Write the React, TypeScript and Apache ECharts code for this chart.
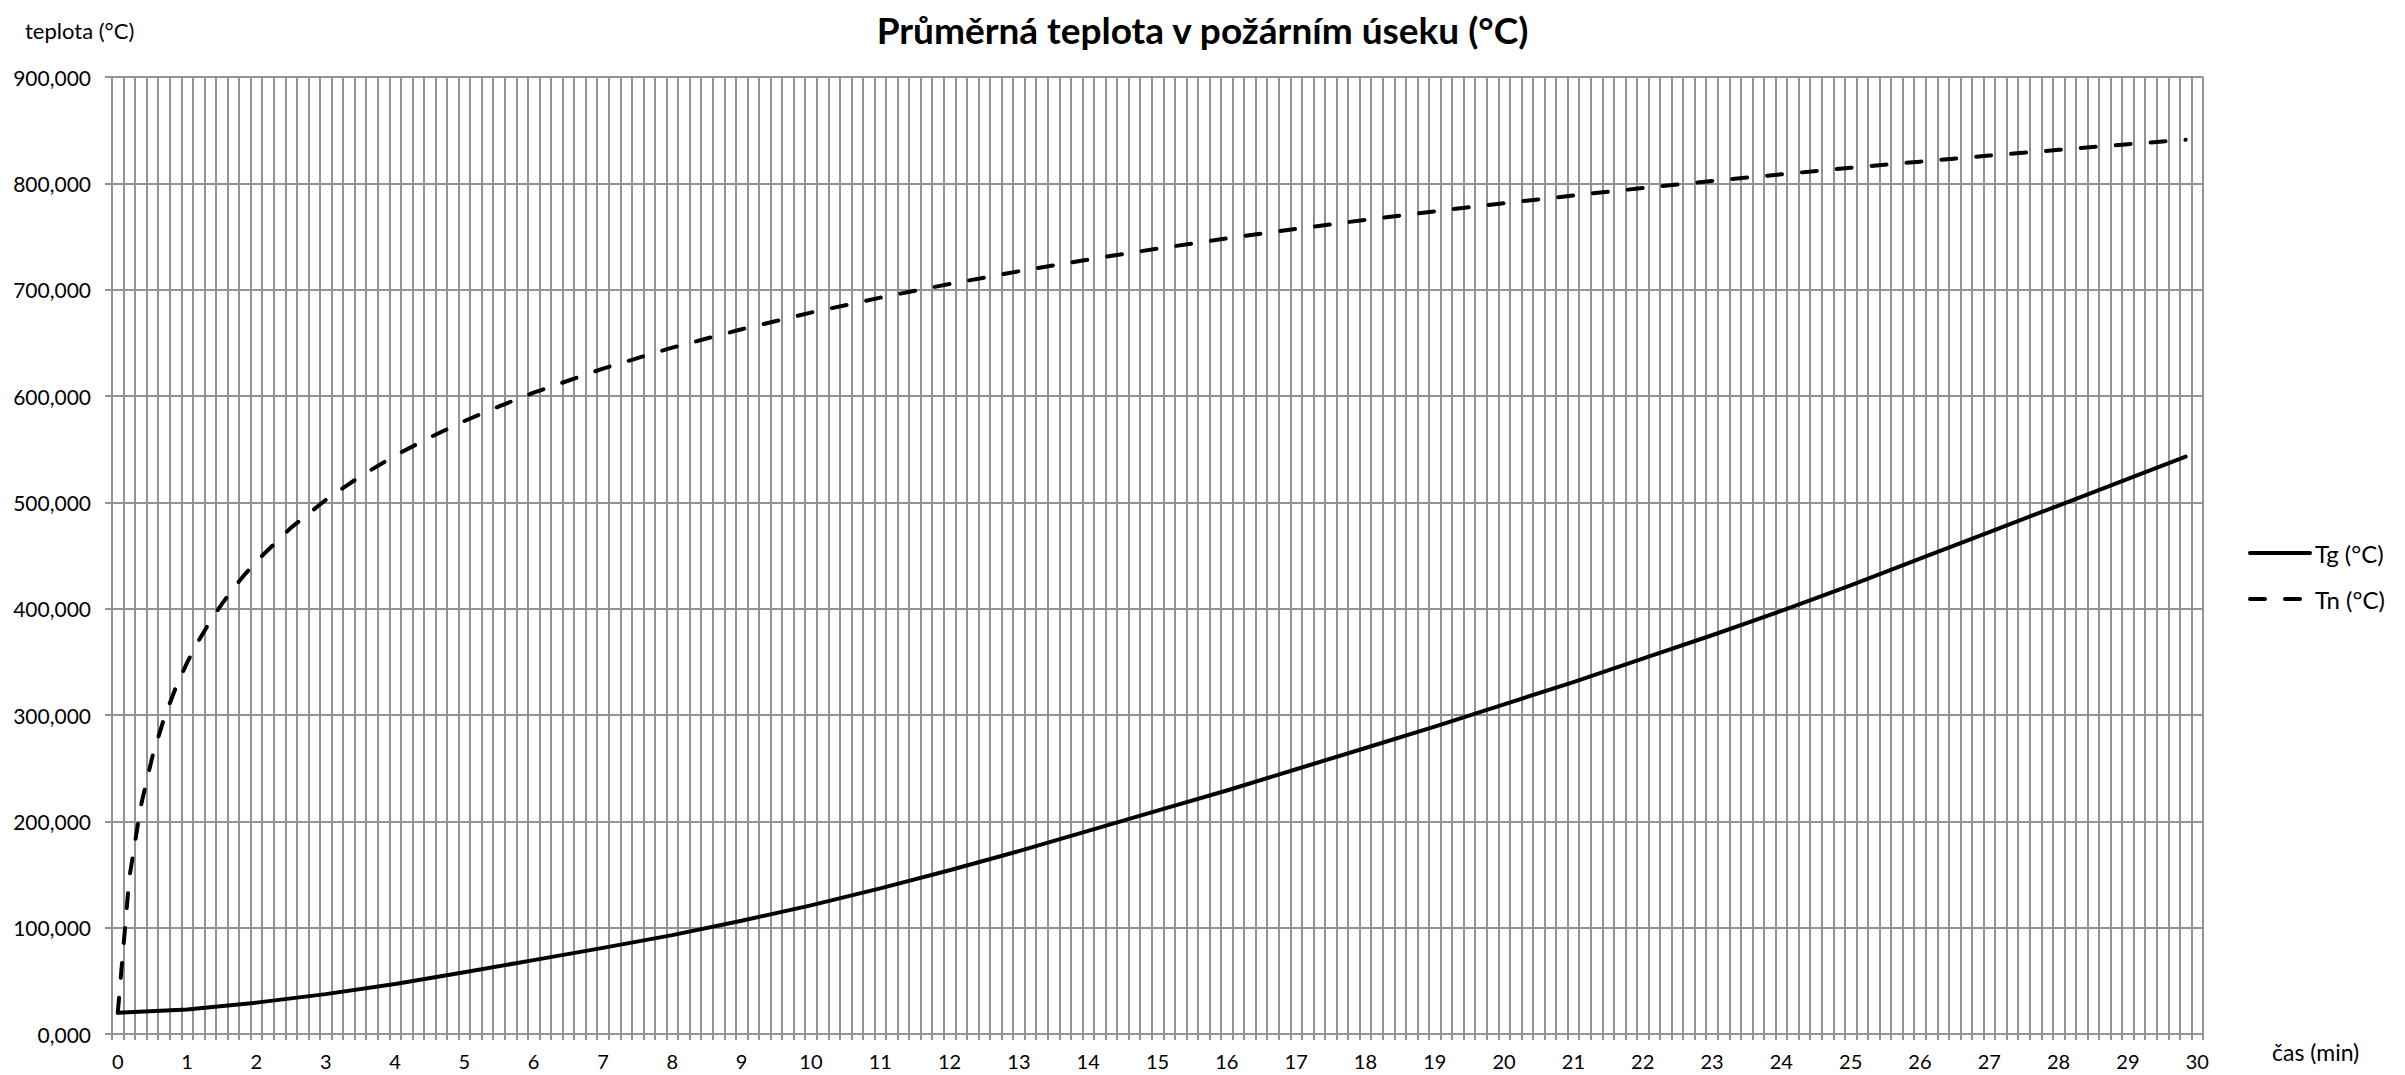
import React, { useEffect, useRef } from 'react';
import * as echarts from 'echarts';

const titleText = 'Průměrná teplota v požárním úseku (°C)';
const yAxisTitle = 'teplota (°C)';
const xAxisTitle = 'čas (min)';
const seriesNames = ['Tg (°C)', 'Tn (°C)'];

// x tick labels (minutes), one every 6 categories (categories are 10 s apart)
const xTickLabels = ['0', '1', '2', '3', '4', '5', '6', '7', '8', '9', '10', '11', '12', '13', '14', '15',
  '16', '17', '18', '19', '20', '21', '22', '23', '24', '25', '26', '27', '28', '29', '30'];
const stepSeconds = 10;
const yMin = 0;
const yMax = 900;
const yStep = 100;

// Tg (°C)
const tgSeconds = [0, 60, 120, 180, 240, 300, 360, 420, 480, 540, 600, 660, 720, 780, 840, 900,
  960, 1020, 1080, 1140, 1200, 1260, 1320, 1380, 1440, 1500, 1560, 1620, 1680, 1740, 1790];
const tgValues = [20, 23, 29.5, 37.5, 47, 58, 69.5, 81, 93, 106.5, 121, 137, 154, 172, 191, 210,
  229, 249, 269, 289, 310, 331, 353, 375, 398, 422, 447, 472, 497, 522, 543];

// Tn (°C)
const tnSeconds = [0, 10, 20, 30, 40, 50, 60, 70, 80, 90, 100, 110, 120, 150, 180, 210, 240,
  270, 300, 330, 360, 420, 480, 540, 600, 660, 720, 780, 840, 900, 960, 1020, 1080, 1140, 1200, 1260,
  1320, 1380, 1440, 1500, 1560, 1620, 1680, 1740, 1790];
const tnValues = [20, 146.9, 214.7, 261.1, 296.6, 325.2, 349.2, 369.9, 388.1, 404.3, 419.0, 432.3,
  444.5, 476.2, 502.3, 524.5, 543.9, 561.0, 576.4, 590.3, 603.1, 625.8, 645.5, 662.8, 678.4, 692.5, 705.4,
  717.3, 728.3, 738.6, 748.2, 757.2, 765.7, 773.7, 781.3, 788.6, 795.6, 802.2, 808.5, 814.6,
  820.4, 826.1, 831.5, 836.8, 841.0];

const FONT = 'Lato';
const GRID = '#939393';

export default function App() {
  const ref = useRef<HTMLDivElement>(null);
  useEffect(() => {
    if (!ref.current) return;
    const chart = echarts.init(ref.current, undefined, { renderer: 'svg' });
    const perLabel = 60 / stepSeconds;
    const categories: string[] = [];
    for (let s = 0; s <= Number(xTickLabels[xTickLabels.length - 1]) * 60; s += stepSeconds) {
      categories.push(String(s));
    }
    const toPairs = (secs: number[], vals: number[]) => secs.map((s, i) => [Math.round(s / stepSeconds), vals[i]]);

    chart.setOption({
      animation: false,
      backgroundColor: '#ffffff',
      title: {
        text: titleText,
        left: 'center',
        top: 6,
        textStyle: { fontFamily: FONT, fontSize: 37, fontWeight: 'bold', color: '#000' },
      },
      grid: { left: 112, right: 202, top: 77, bottom: 41, containLabel: false },
      legend: {
        orient: 'vertical',
        left: 2243,
        top: 536,
        itemWidth: 60,
        itemHeight: 4,
        itemGap: 22,
        lineStyle: { width: 4 },
        itemStyle: { opacity: 0 },
        textStyle: { fontFamily: FONT, fontSize: 24, color: '#000' },
        data: seriesNames,
      },
      xAxis: {
        type: 'category',
        data: categories,
        boundaryGap: true,
        axisLine: { show: true, lineStyle: { color: GRID, width: 2 } },
        axisTick: { show: true, interval: 0, length: 6, lineStyle: { color: GRID, width: 2 } },
        splitLine: { show: true, interval: 0, lineStyle: { color: GRID, width: 2 } },
        axisLabel: {
          interval: perLabel - 1,
          margin: 17,
          fontFamily: FONT,
          fontSize: 20,
          color: '#000',
          formatter: (_v: string, idx: number) => (idx % perLabel === 0 ? xTickLabels[idx / perLabel] : ''),
        },
      },
      yAxis: {
        type: 'value',
        min: yMin,
        max: yMax,
        interval: yStep,
        axisLine: { show: true, lineStyle: { color: GRID, width: 2 } },
        axisTick: { show: true, length: 7, lineStyle: { color: GRID, width: 2 } },
        splitLine: { show: true, lineStyle: { color: GRID, width: 2 } },
        axisLabel: {
          margin: 21,
          fontFamily: FONT,
          fontSize: 21,
          color: '#000',
          formatter: (v: number) => v.toFixed(3).replace('.', ','),
        },
      },
      graphic: [
        {
          type: 'text',
          left: 25,
          top: 19,
          style: { text: yAxisTitle, fontFamily: FONT, fontSize: 22, fill: '#000' },
        },
        {
          type: 'text',
          left: 2272,
          top: 1040,
          style: { text: xAxisTitle, fontFamily: FONT, fontSize: 23, fill: '#000' },
        },
      ],
      series: [
        {
          name: seriesNames[0],
          type: 'line',
          data: toPairs(tgSeconds, tgValues),
          symbol: 'none',
          smooth: false,
          lineStyle: { color: '#000', width: 4, cap: 'round', join: 'round' },
          itemStyle: { color: '#000' },
        },
        {
          name: seriesNames[1],
          type: 'line',
          data: toPairs(tnSeconds, tnValues),
          symbol: 'none',
          smooth: false,
          lineStyle: { color: '#000', width: 4, type: [15, 20], cap: 'round', join: 'round' },
          itemStyle: { color: '#000' },
        },
      ],
    });
    return () => chart.dispose();
  }, []);
  return <div ref={ref} style={{ position: 'fixed', left: 0, top: 0, width: 2405, height: 1075 }} />;
}
